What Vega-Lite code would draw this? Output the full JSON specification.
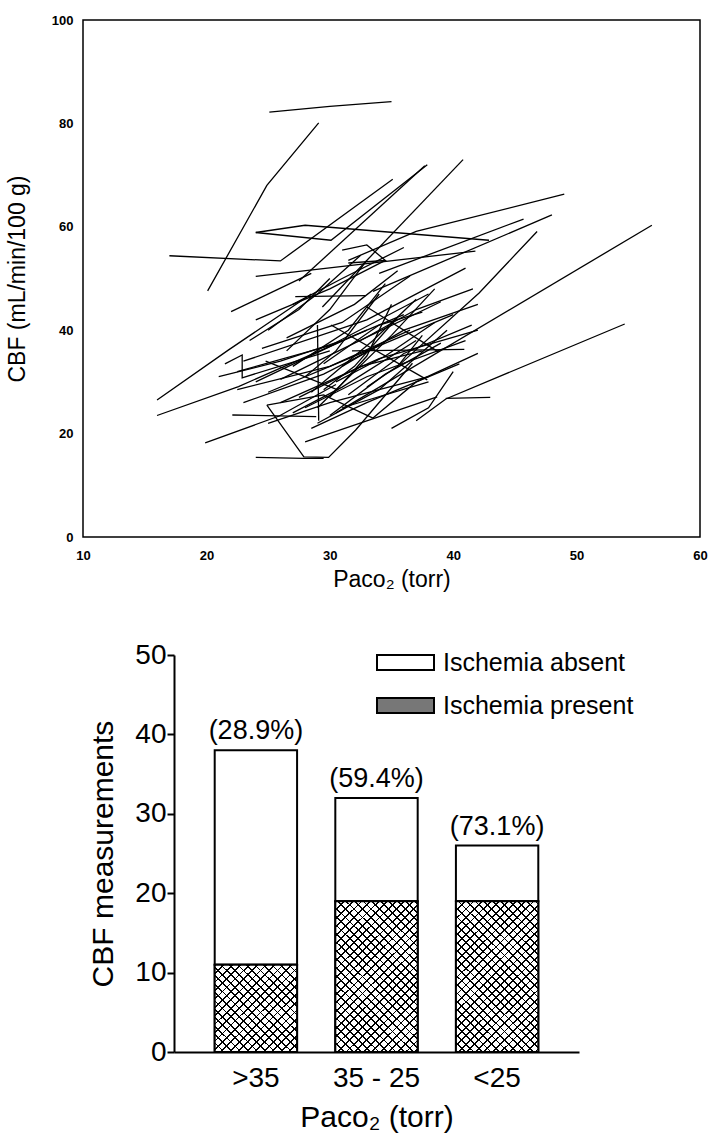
{
"$schema": "https://vega.github.io/schema/vega-lite/v6.json",
"padding": {"left": 5, "top": 13, "right": 5, "bottom": 5},
"background": "white",
"config": {"font": "Liberation Sans", "view": {"stroke": null}, "axis": {"grid": false, "labelColor": "black", "titleColor": "black", "domainColor": "black", "tickColor": "black", "titleFontWeight": "normal", "labelFont": "Liberation Sans", "titleFont": "Liberation Sans"}, "legend": {"labelColor": "black", "labelFont": "Liberation Sans"}},
"datasets": {
"paths": [
{"id":1,"seq":1,"x":25.1,"y":82.2},{"id":1,"seq":2,"x":30.0,"y":83.3},{"id":1,"seq":3,"x":35.0,"y":84.2},
{"id":2,"seq":1,"x":20.1,"y":47.6},{"id":2,"seq":2,"x":24.9,"y":68.0},{"id":2,"seq":3,"x":29.1,"y":80.1},
{"id":3,"seq":1,"x":17.0,"y":54.4},{"id":3,"seq":2,"x":26.0,"y":53.4},{"id":3,"seq":3,"x":35.1,"y":69.2},
{"id":4,"seq":1,"x":24.0,"y":58.9},{"id":4,"seq":2,"x":28.0,"y":60.3},{"id":4,"seq":3,"x":42.9,"y":57.4},
{"id":5,"seq":1,"x":24.0,"y":58.9},{"id":5,"seq":2,"x":30.1,"y":57.4},{"id":5,"seq":3,"x":37.9,"y":72.0},
{"id":6,"seq":1,"x":24.0,"y":50.4},{"id":6,"seq":2,"x":41.8,"y":55.3},
{"id":7,"seq":1,"x":31.5,"y":53.5},{"id":7,"seq":2,"x":37.0,"y":59.1},{"id":7,"seq":3,"x":49.0,"y":66.3},
{"id":8,"seq":1,"x":33.5,"y":47.5},{"id":8,"seq":2,"x":48.0,"y":62.3},
{"id":9,"seq":1,"x":34.0,"y":51.0},{"id":9,"seq":2,"x":45.7,"y":61.5},
{"id":10,"seq":1,"x":35.5,"y":33.0},{"id":10,"seq":2,"x":42.1,"y":47.2},{"id":10,"seq":3,"x":46.8,"y":59.1},
{"id":11,"seq":1,"x":30.5,"y":24.0},{"id":11,"seq":2,"x":56.1,"y":60.3},
{"id":12,"seq":1,"x":37.0,"y":22.5},{"id":12,"seq":2,"x":39.4,"y":26.7},{"id":12,"seq":3,"x":53.9,"y":41.2},
{"id":13,"seq":1,"x":39.4,"y":26.8},{"id":13,"seq":2,"x":43.0,"y":27.0},
{"id":14,"seq":1,"x":28.0,"y":18.4},{"id":14,"seq":2,"x":38.7,"y":27.1},
{"id":15,"seq":1,"x":19.9,"y":18.2},{"id":15,"seq":2,"x":25.9,"y":23.4},{"id":15,"seq":3,"x":30.5,"y":29.5},
{"id":16,"seq":1,"x":22.1,"y":23.6},{"id":16,"seq":2,"x":28.9,"y":23.3},
{"id":17,"seq":1,"x":24.0,"y":15.4},{"id":17,"seq":2,"x":27.9,"y":15.2},{"id":17,"seq":3,"x":29.5,"y":15.2},
{"id":18,"seq":1,"x":24.9,"y":25.5},{"id":18,"seq":2,"x":27.9,"y":15.5},{"id":18,"seq":3,"x":29.9,"y":15.4},{"id":18,"seq":4,"x":32.1,"y":20.7},{"id":18,"seq":5,"x":36.7,"y":33.6},
{"id":19,"seq":1,"x":24.9,"y":25.5},{"id":19,"seq":2,"x":29.5,"y":27.5},{"id":19,"seq":3,"x":33.5,"y":23.0},
{"id":20,"seq":1,"x":16.0,"y":23.5},{"id":20,"seq":2,"x":22.6,"y":29.1},{"id":20,"seq":3,"x":33.0,"y":40.0},
{"id":21,"seq":1,"x":16.0,"y":26.5},{"id":21,"seq":2,"x":21.8,"y":36.2},{"id":21,"seq":3,"x":28.5,"y":47.0},
{"id":22,"seq":1,"x":22.0,"y":43.6},{"id":22,"seq":2,"x":28.5,"y":51.0},
{"id":23,"seq":1,"x":27.2,"y":46.5},{"id":23,"seq":2,"x":32.9,"y":46.7},
{"id":24,"seq":1,"x":30.1,"y":41.0},{"id":24,"seq":2,"x":37.9,"y":30.4},
{"id":25,"seq":1,"x":31.8,"y":36.0},{"id":25,"seq":2,"x":40.9,"y":36.3},
{"id":26,"seq":1,"x":33.0,"y":44.5},{"id":26,"seq":2,"x":38.8,"y":35.8},
{"id":27,"seq":1,"x":29.0,"y":41.0},{"id":27,"seq":2,"x":29.1,"y":22.5},
{"id":28,"seq":1,"x":27.5,"y":49.5},{"id":28,"seq":2,"x":37.7,"y":71.8},
{"id":29,"seq":1,"x":29.4,"y":44.5},{"id":29,"seq":2,"x":40.8,"y":73.0},
{"id":30,"seq":1,"x":22.5,"y":32.0},{"id":30,"seq":2,"x":30.0,"y":37.0},{"id":30,"seq":3,"x":38.0,"y":47.0},
{"id":31,"seq":1,"x":23.0,"y":34.0},{"id":31,"seq":2,"x":33.0,"y":42.0},{"id":31,"seq":3,"x":41.0,"y":52.0},
{"id":32,"seq":1,"x":24.0,"y":30.0},{"id":32,"seq":2,"x":31.5,"y":38.5},{"id":32,"seq":3,"x":36.0,"y":43.0},
{"id":33,"seq":1,"x":25.0,"y":28.0},{"id":33,"seq":2,"x":32.0,"y":35.0},{"id":33,"seq":3,"x":40.0,"y":43.0},
{"id":34,"seq":1,"x":26.0,"y":26.0},{"id":34,"seq":2,"x":34.0,"y":34.5},{"id":34,"seq":3,"x":42.0,"y":40.0},
{"id":35,"seq":1,"x":27.0,"y":24.0},{"id":35,"seq":2,"x":31.0,"y":29.0},{"id":35,"seq":3,"x":37.0,"y":38.0},
{"id":36,"seq":1,"x":28.0,"y":25.0},{"id":36,"seq":2,"x":33.0,"y":31.0},{"id":36,"seq":3,"x":41.0,"y":38.0},
{"id":37,"seq":1,"x":21.0,"y":31.0},{"id":37,"seq":2,"x":26.0,"y":34.0},{"id":37,"seq":3,"x":31.0,"y":38.0},
{"id":38,"seq":1,"x":22.5,"y":28.5},{"id":38,"seq":2,"x":30.0,"y":33.0},{"id":38,"seq":3,"x":36.5,"y":40.0},
{"id":39,"seq":1,"x":23.0,"y":26.0},{"id":39,"seq":2,"x":29.5,"y":31.5},{"id":39,"seq":3,"x":34.0,"y":37.0},
{"id":40,"seq":1,"x":25.0,"y":22.0},{"id":40,"seq":2,"x":30.0,"y":26.0},{"id":40,"seq":3,"x":38.0,"y":31.0},
{"id":41,"seq":1,"x":28.5,"y":21.0},{"id":41,"seq":2,"x":33.0,"y":26.0},{"id":41,"seq":3,"x":40.5,"y":33.5},
{"id":42,"seq":1,"x":29.0,"y":25.0},{"id":42,"seq":2,"x":35.0,"y":39.0},{"id":42,"seq":3,"x":38.5,"y":48.0},
{"id":43,"seq":1,"x":30.0,"y":27.0},{"id":43,"seq":2,"x":33.0,"y":35.0},{"id":43,"seq":3,"x":35.0,"y":45.0},
{"id":44,"seq":1,"x":28.0,"y":31.0},{"id":44,"seq":2,"x":30.5,"y":36.0},{"id":44,"seq":3,"x":34.0,"y":47.0},
{"id":45,"seq":1,"x":26.5,"y":36.0},{"id":45,"seq":2,"x":30.0,"y":44.0},{"id":45,"seq":3,"x":33.0,"y":53.5},
{"id":46,"seq":1,"x":25.0,"y":40.0},{"id":46,"seq":2,"x":29.0,"y":47.0},{"id":46,"seq":3,"x":32.5,"y":54.5},
{"id":47,"seq":1,"x":23.5,"y":38.0},{"id":47,"seq":2,"x":27.5,"y":44.0},{"id":47,"seq":3,"x":30.0,"y":50.0},
{"id":48,"seq":1,"x":30.5,"y":30.0},{"id":48,"seq":2,"x":34.5,"y":35.0},{"id":48,"seq":3,"x":38.5,"y":41.5},
{"id":49,"seq":1,"x":31.0,"y":33.0},{"id":49,"seq":2,"x":36.0,"y":40.0},{"id":49,"seq":3,"x":42.0,"y":45.0},
{"id":50,"seq":1,"x":32.5,"y":38.0},{"id":50,"seq":2,"x":37.0,"y":44.0},{"id":50,"seq":3,"x":41.6,"y":48.0},
{"id":51,"seq":1,"x":33.5,"y":23.0},{"id":51,"seq":2,"x":37.0,"y":30.0},{"id":51,"seq":3,"x":42.0,"y":35.5},
{"id":52,"seq":1,"x":35.0,"y":21.0},{"id":52,"seq":2,"x":38.0,"y":25.0},{"id":52,"seq":3,"x":40.0,"y":32.0},
{"id":53,"seq":1,"x":29.5,"y":28.5},{"id":53,"seq":2,"x":32.0,"y":33.0},{"id":53,"seq":3,"x":35.5,"y":42.5},
{"id":54,"seq":1,"x":21.5,"y":33.5},{"id":54,"seq":2,"x":22.9,"y":35.2},{"id":54,"seq":3,"x":22.9,"y":30.8},{"id":54,"seq":4,"x":30.0,"y":36.0},
{"id":55,"seq":1,"x":27.0,"y":45.0},{"id":55,"seq":2,"x":31.0,"y":50.0},{"id":55,"seq":3,"x":36.0,"y":56.0},
{"id":56,"seq":1,"x":24.0,"y":42.0},{"id":56,"seq":2,"x":30.0,"y":48.0},{"id":56,"seq":3,"x":34.5,"y":53.5},
{"id":57,"seq":1,"x":31.0,"y":25.0},{"id":57,"seq":2,"x":38.0,"y":30.0},
{"id":58,"seq":1,"x":31.0,"y":55.5},{"id":58,"seq":2,"x":33.0,"y":56.5},{"id":58,"seq":3,"x":34.5,"y":53.5},{"id":58,"seq":4,"x":31.5,"y":53.0},
{"id":59,"seq":1,"x":33.0,"y":29.0},{"id":59,"seq":2,"x":35.5,"y":33.0},{"id":59,"seq":3,"x":37.5,"y":39.0},
{"id":60,"seq":1,"x":24.8,"y":34.0},{"id":60,"seq":2,"x":30.7,"y":28.4},
{"id":61,"seq":1,"x":26.0,"y":30.5},{"id":61,"seq":2,"x":32.0,"y":37.5},{"id":61,"seq":3,"x":39.0,"y":45.5},
{"id":62,"seq":1,"x":27.5,"y":27.0},{"id":62,"seq":2,"x":32.5,"y":33.0},{"id":62,"seq":3,"x":37.5,"y":36.0},
{"id":63,"seq":1,"x":24.5,"y":36.5},{"id":63,"seq":2,"x":31.0,"y":41.5},{"id":63,"seq":3,"x":36.5,"y":50.5},
{"id":64,"seq":1,"x":29.0,"y":22.0},{"id":64,"seq":2,"x":34.0,"y":28.5},{"id":64,"seq":3,"x":39.5,"y":40.0},
{"id":65,"seq":1,"x":28.5,"y":28.0},{"id":65,"seq":2,"x":33.5,"y":38.0},{"id":65,"seq":3,"x":37.0,"y":46.0},
{"id":66,"seq":1,"x":30.0,"y":23.5},{"id":66,"seq":2,"x":34.5,"y":31.5},{"id":66,"seq":3,"x":39.0,"y":37.5},
{"id":67,"seq":1,"x":27.0,"y":33.0},{"id":67,"seq":2,"x":31.5,"y":40.0},{"id":67,"seq":3,"x":34.5,"y":49.0},
{"id":68,"seq":1,"x":31.5,"y":27.5},{"id":68,"seq":2,"x":36.0,"y":35.5},{"id":68,"seq":3,"x":41.5,"y":41.0},
{"id":69,"seq":1,"x":26.5,"y":38.5},{"id":69,"seq":2,"x":32.0,"y":45.0},{"id":69,"seq":3,"x":35.5,"y":51.5},
{"id":70,"seq":1,"x":29.5,"y":33.5},{"id":70,"seq":2,"x":34.0,"y":41.0},{"id":70,"seq":3,"x":37.5,"y":43.5}
],
"bars": [
{"group":">35","status":"Ischemia absent","count":27},
{"group":">35","status":"Ischemia present","count":11},
{"group":"35 - 25","status":"Ischemia absent","count":13},
{"group":"35 - 25","status":"Ischemia present","count":19},
{"group":"<25","status":"Ischemia absent","count":7},
{"group":"<25","status":"Ischemia present","count":19}
],
"totals": [
{"group":">35","total":38,"label":"(28.9%)"},
{"group":"35 - 25","total":32,"label":"(59.4%)"},
{"group":"<25","total":26,"label":"(73.1%)"}
]
},
"vconcat": [
{
"width": 617, "height": 517,
"view": {"stroke": "black", "strokeWidth": 1.5},
"data": {"name": "paths"},
"mark": {"type": "line", "color": "black", "strokeWidth": 1.3},
"encoding": {
"x": {"field": "x", "type": "quantitative", "scale": {"domain": [10, 60], "nice": false, "zero": false}, "axis": {"values": [10, 20, 30, 40, 50, 60], "title": "Paco₂ (torr)", "domain": false, "ticks": false, "labelFontSize": 13, "labelFontWeight": "bold", "labelPadding": 12, "labelFlush": false, "titleFontSize": 23, "titlePadding": 6}},
"y": {"field": "y", "type": "quantitative", "scale": {"domain": [0, 100], "nice": false}, "axis": {"values": [0, 20, 40, 60, 80, 100], "title": "CBF (mL/min/100 g)", "domain": false, "ticks": false, "labelFontSize": 13, "labelFontWeight": "bold", "labelPadding": 10, "labelFlush": false, "titleFontSize": 23, "titlePadding": 22}},
"detail": {"field": "id", "type": "nominal"},
"order": {"field": "seq", "type": "quantitative"}
}
},
{
"hconcat": [
{"width": 91, "height": 10, "data": {"values": []}, "mark": "point"},
{
"width": 405, "height": 397,
"data": {"name": "bars"},
"encoding": {
"x": {"field": "group", "type": "nominal", "sort": [">35", "35 - 25", "<25"], "scale": {"paddingInner": 0.317, "paddingOuter": 0.3375}, "axis": {"title": "Paco₂ (torr)", "labelAngle": 0, "ticks": false, "domainWidth": 2, "labelFontSize": 28, "labelPadding": 12, "titleFontSize": 30, "titlePadding": 10}},
"y": {"field": "count", "type": "quantitative", "stack": "zero", "scale": {"domain": [0, 50], "nice": false}, "axis": {"values": [0, 10, 20, 30, 40, 50], "title": "CBF  measurements", "domainWidth": 2, "tickWidth": 2, "tickSize": 7, "labelFontSize": 28, "labelPadding": 1, "titleFontSize": 30, "titlePadding": 16}}
},
"layer": [
{
"mark": {"type": "bar", "stroke": "black", "strokeWidth": 2},
"encoding": {
"color": {"field": "status", "type": "nominal", "scale": {"domain": ["Ischemia absent", "Ischemia present"], "range": ["white", "#777777"]}, "legend": {"orient": "none", "legendX": 202, "legendY": -22, "title": null, "symbolType": "M-1,-0.263H1V0.263H-1Z", "symbolSize": 3249, "symbolStrokeColor": "black", "symbolStrokeWidth": 2, "symbolOpacity": 1, "labelFontSize": 25, "labelOffset": 8, "labelLimit": 400, "rowPadding": 0}},
"order": {"field": "status", "sort": "descending"}
}
},
{
"transform": [{"filter": "datum.status === 'Ischemia present'"}],
"mark": {"type": "bar", "fill": "white", "stroke": null}
},
{
"transform": [{"filter": "datum.status === 'Ischemia present' && datum.group === '>35'"}],
"mark": {"type": "bar", "stroke": null, "fill": {"gradient": "linear", "x1": 0, "y1": 0, "x2": 1, "y2": 1.07, "stops": [
{"offset":0,"color":"#000"},{"offset":0.01,"color":"#000"},{"offset":0.01,"color":"rgba(0,0,0,0)"},{"offset":0.048,"color":"rgba(0,0,0,0)"},
{"offset":0.048,"color":"#000"},{"offset":0.058,"color":"#000"},{"offset":0.058,"color":"rgba(0,0,0,0)"},{"offset":0.096,"color":"rgba(0,0,0,0)"},
{"offset":0.096,"color":"#000"},{"offset":0.106,"color":"#000"},{"offset":0.106,"color":"rgba(0,0,0,0)"},{"offset":0.144,"color":"rgba(0,0,0,0)"},
{"offset":0.144,"color":"#000"},{"offset":0.154,"color":"#000"},{"offset":0.154,"color":"rgba(0,0,0,0)"},{"offset":0.192,"color":"rgba(0,0,0,0)"},
{"offset":0.192,"color":"#000"},{"offset":0.202,"color":"#000"},{"offset":0.202,"color":"rgba(0,0,0,0)"},{"offset":0.24,"color":"rgba(0,0,0,0)"},
{"offset":0.24,"color":"#000"},{"offset":0.25,"color":"#000"},{"offset":0.25,"color":"rgba(0,0,0,0)"},{"offset":0.288,"color":"rgba(0,0,0,0)"},
{"offset":0.288,"color":"#000"},{"offset":0.298,"color":"#000"},{"offset":0.298,"color":"rgba(0,0,0,0)"},{"offset":0.336,"color":"rgba(0,0,0,0)"},
{"offset":0.336,"color":"#000"},{"offset":0.346,"color":"#000"},{"offset":0.346,"color":"rgba(0,0,0,0)"},{"offset":0.384,"color":"rgba(0,0,0,0)"},
{"offset":0.384,"color":"#000"},{"offset":0.394,"color":"#000"},{"offset":0.394,"color":"rgba(0,0,0,0)"},{"offset":0.432,"color":"rgba(0,0,0,0)"},
{"offset":0.432,"color":"#000"},{"offset":0.442,"color":"#000"},{"offset":0.442,"color":"rgba(0,0,0,0)"},{"offset":0.48,"color":"rgba(0,0,0,0)"},
{"offset":0.48,"color":"#000"},{"offset":0.49,"color":"#000"},{"offset":0.49,"color":"rgba(0,0,0,0)"},{"offset":0.528,"color":"rgba(0,0,0,0)"},
{"offset":0.528,"color":"#000"},{"offset":0.538,"color":"#000"},{"offset":0.538,"color":"rgba(0,0,0,0)"},{"offset":0.576,"color":"rgba(0,0,0,0)"},
{"offset":0.576,"color":"#000"},{"offset":0.586,"color":"#000"},{"offset":0.586,"color":"rgba(0,0,0,0)"},{"offset":0.624,"color":"rgba(0,0,0,0)"},
{"offset":0.624,"color":"#000"},{"offset":0.634,"color":"#000"},{"offset":0.634,"color":"rgba(0,0,0,0)"},{"offset":0.672,"color":"rgba(0,0,0,0)"},
{"offset":0.672,"color":"#000"},{"offset":0.682,"color":"#000"},{"offset":0.682,"color":"rgba(0,0,0,0)"},{"offset":0.72,"color":"rgba(0,0,0,0)"},
{"offset":0.72,"color":"#000"},{"offset":0.73,"color":"#000"},{"offset":0.73,"color":"rgba(0,0,0,0)"},{"offset":0.768,"color":"rgba(0,0,0,0)"},
{"offset":0.768,"color":"#000"},{"offset":0.778,"color":"#000"},{"offset":0.778,"color":"rgba(0,0,0,0)"},{"offset":0.816,"color":"rgba(0,0,0,0)"},
{"offset":0.816,"color":"#000"},{"offset":0.826,"color":"#000"},{"offset":0.826,"color":"rgba(0,0,0,0)"},{"offset":0.864,"color":"rgba(0,0,0,0)"},
{"offset":0.864,"color":"#000"},{"offset":0.874,"color":"#000"},{"offset":0.874,"color":"rgba(0,0,0,0)"},{"offset":0.912,"color":"rgba(0,0,0,0)"},
{"offset":0.912,"color":"#000"},{"offset":0.922,"color":"#000"},{"offset":0.922,"color":"rgba(0,0,0,0)"},{"offset":0.96,"color":"rgba(0,0,0,0)"},
{"offset":0.96,"color":"#000"},{"offset":0.97,"color":"#000"},{"offset":0.97,"color":"rgba(0,0,0,0)"},{"offset":1,"color":"rgba(0,0,0,0)"}
]}}
},
{
"transform": [{"filter": "datum.status === 'Ischemia present' && datum.group === '>35'"}],
"mark": {"type": "bar", "stroke": null, "fill": {"gradient": "linear", "x1": 0, "y1": 1, "x2": 1, "y2": -0.07, "stops": [
{"offset":0,"color":"#000"},{"offset":0.01,"color":"#000"},{"offset":0.01,"color":"rgba(0,0,0,0)"},{"offset":0.048,"color":"rgba(0,0,0,0)"},
{"offset":0.048,"color":"#000"},{"offset":0.058,"color":"#000"},{"offset":0.058,"color":"rgba(0,0,0,0)"},{"offset":0.096,"color":"rgba(0,0,0,0)"},
{"offset":0.096,"color":"#000"},{"offset":0.106,"color":"#000"},{"offset":0.106,"color":"rgba(0,0,0,0)"},{"offset":0.144,"color":"rgba(0,0,0,0)"},
{"offset":0.144,"color":"#000"},{"offset":0.154,"color":"#000"},{"offset":0.154,"color":"rgba(0,0,0,0)"},{"offset":0.192,"color":"rgba(0,0,0,0)"},
{"offset":0.192,"color":"#000"},{"offset":0.202,"color":"#000"},{"offset":0.202,"color":"rgba(0,0,0,0)"},{"offset":0.24,"color":"rgba(0,0,0,0)"},
{"offset":0.24,"color":"#000"},{"offset":0.25,"color":"#000"},{"offset":0.25,"color":"rgba(0,0,0,0)"},{"offset":0.288,"color":"rgba(0,0,0,0)"},
{"offset":0.288,"color":"#000"},{"offset":0.298,"color":"#000"},{"offset":0.298,"color":"rgba(0,0,0,0)"},{"offset":0.336,"color":"rgba(0,0,0,0)"},
{"offset":0.336,"color":"#000"},{"offset":0.346,"color":"#000"},{"offset":0.346,"color":"rgba(0,0,0,0)"},{"offset":0.384,"color":"rgba(0,0,0,0)"},
{"offset":0.384,"color":"#000"},{"offset":0.394,"color":"#000"},{"offset":0.394,"color":"rgba(0,0,0,0)"},{"offset":0.432,"color":"rgba(0,0,0,0)"},
{"offset":0.432,"color":"#000"},{"offset":0.442,"color":"#000"},{"offset":0.442,"color":"rgba(0,0,0,0)"},{"offset":0.48,"color":"rgba(0,0,0,0)"},
{"offset":0.48,"color":"#000"},{"offset":0.49,"color":"#000"},{"offset":0.49,"color":"rgba(0,0,0,0)"},{"offset":0.528,"color":"rgba(0,0,0,0)"},
{"offset":0.528,"color":"#000"},{"offset":0.538,"color":"#000"},{"offset":0.538,"color":"rgba(0,0,0,0)"},{"offset":0.576,"color":"rgba(0,0,0,0)"},
{"offset":0.576,"color":"#000"},{"offset":0.586,"color":"#000"},{"offset":0.586,"color":"rgba(0,0,0,0)"},{"offset":0.624,"color":"rgba(0,0,0,0)"},
{"offset":0.624,"color":"#000"},{"offset":0.634,"color":"#000"},{"offset":0.634,"color":"rgba(0,0,0,0)"},{"offset":0.672,"color":"rgba(0,0,0,0)"},
{"offset":0.672,"color":"#000"},{"offset":0.682,"color":"#000"},{"offset":0.682,"color":"rgba(0,0,0,0)"},{"offset":0.72,"color":"rgba(0,0,0,0)"},
{"offset":0.72,"color":"#000"},{"offset":0.73,"color":"#000"},{"offset":0.73,"color":"rgba(0,0,0,0)"},{"offset":0.768,"color":"rgba(0,0,0,0)"},
{"offset":0.768,"color":"#000"},{"offset":0.778,"color":"#000"},{"offset":0.778,"color":"rgba(0,0,0,0)"},{"offset":0.816,"color":"rgba(0,0,0,0)"},
{"offset":0.816,"color":"#000"},{"offset":0.826,"color":"#000"},{"offset":0.826,"color":"rgba(0,0,0,0)"},{"offset":0.864,"color":"rgba(0,0,0,0)"},
{"offset":0.864,"color":"#000"},{"offset":0.874,"color":"#000"},{"offset":0.874,"color":"rgba(0,0,0,0)"},{"offset":0.912,"color":"rgba(0,0,0,0)"},
{"offset":0.912,"color":"#000"},{"offset":0.922,"color":"#000"},{"offset":0.922,"color":"rgba(0,0,0,0)"},{"offset":0.96,"color":"rgba(0,0,0,0)"},
{"offset":0.96,"color":"#000"},{"offset":0.97,"color":"#000"},{"offset":0.97,"color":"rgba(0,0,0,0)"},{"offset":1,"color":"rgba(0,0,0,0)"}
]}}
},
{
"transform": [{"filter": "datum.status === 'Ischemia present' && datum.group !== '>35'"}],
"mark": {"type": "bar", "stroke": null, "fill": {"gradient": "linear", "x1": 0, "y1": 0, "x2": 1, "y2": 1.854, "stops": [
{"offset":0,"color":"#000"},{"offset":0.005,"color":"#000"},{"offset":0.005,"color":"rgba(0,0,0,0)"},{"offset":0.0234,"color":"rgba(0,0,0,0)"},
{"offset":0.0234,"color":"#000"},{"offset":0.0284,"color":"#000"},{"offset":0.0284,"color":"rgba(0,0,0,0)"},{"offset":0.0468,"color":"rgba(0,0,0,0)"},
{"offset":0.0468,"color":"#000"},{"offset":0.0518,"color":"#000"},{"offset":0.0518,"color":"rgba(0,0,0,0)"},{"offset":0.0702,"color":"rgba(0,0,0,0)"},
{"offset":0.0702,"color":"#000"},{"offset":0.0752,"color":"#000"},{"offset":0.0752,"color":"rgba(0,0,0,0)"},{"offset":0.0936,"color":"rgba(0,0,0,0)"},
{"offset":0.0936,"color":"#000"},{"offset":0.0986,"color":"#000"},{"offset":0.0986,"color":"rgba(0,0,0,0)"},{"offset":0.117,"color":"rgba(0,0,0,0)"},
{"offset":0.117,"color":"#000"},{"offset":0.122,"color":"#000"},{"offset":0.122,"color":"rgba(0,0,0,0)"},{"offset":0.1404,"color":"rgba(0,0,0,0)"},
{"offset":0.1404,"color":"#000"},{"offset":0.1454,"color":"#000"},{"offset":0.1454,"color":"rgba(0,0,0,0)"},{"offset":0.1638,"color":"rgba(0,0,0,0)"},
{"offset":0.1638,"color":"#000"},{"offset":0.1688,"color":"#000"},{"offset":0.1688,"color":"rgba(0,0,0,0)"},{"offset":0.1872,"color":"rgba(0,0,0,0)"},
{"offset":0.1872,"color":"#000"},{"offset":0.1922,"color":"#000"},{"offset":0.1922,"color":"rgba(0,0,0,0)"},{"offset":0.2106,"color":"rgba(0,0,0,0)"},
{"offset":0.2106,"color":"#000"},{"offset":0.2156,"color":"#000"},{"offset":0.2156,"color":"rgba(0,0,0,0)"},{"offset":0.234,"color":"rgba(0,0,0,0)"},
{"offset":0.234,"color":"#000"},{"offset":0.239,"color":"#000"},{"offset":0.239,"color":"rgba(0,0,0,0)"},{"offset":0.2574,"color":"rgba(0,0,0,0)"},
{"offset":0.2574,"color":"#000"},{"offset":0.2624,"color":"#000"},{"offset":0.2624,"color":"rgba(0,0,0,0)"},{"offset":0.2808,"color":"rgba(0,0,0,0)"},
{"offset":0.2808,"color":"#000"},{"offset":0.2858,"color":"#000"},{"offset":0.2858,"color":"rgba(0,0,0,0)"},{"offset":0.3042,"color":"rgba(0,0,0,0)"},
{"offset":0.3042,"color":"#000"},{"offset":0.3092,"color":"#000"},{"offset":0.3092,"color":"rgba(0,0,0,0)"},{"offset":0.3276,"color":"rgba(0,0,0,0)"},
{"offset":0.3276,"color":"#000"},{"offset":0.3326,"color":"#000"},{"offset":0.3326,"color":"rgba(0,0,0,0)"},{"offset":0.351,"color":"rgba(0,0,0,0)"},
{"offset":0.351,"color":"#000"},{"offset":0.356,"color":"#000"},{"offset":0.356,"color":"rgba(0,0,0,0)"},{"offset":0.3744,"color":"rgba(0,0,0,0)"},
{"offset":0.3744,"color":"#000"},{"offset":0.3794,"color":"#000"},{"offset":0.3794,"color":"rgba(0,0,0,0)"},{"offset":0.3978,"color":"rgba(0,0,0,0)"},
{"offset":0.3978,"color":"#000"},{"offset":0.4028,"color":"#000"},{"offset":0.4028,"color":"rgba(0,0,0,0)"},{"offset":0.4212,"color":"rgba(0,0,0,0)"},
{"offset":0.4212,"color":"#000"},{"offset":0.4262,"color":"#000"},{"offset":0.4262,"color":"rgba(0,0,0,0)"},{"offset":0.4446,"color":"rgba(0,0,0,0)"},
{"offset":0.4446,"color":"#000"},{"offset":0.4496,"color":"#000"},{"offset":0.4496,"color":"rgba(0,0,0,0)"},{"offset":0.468,"color":"rgba(0,0,0,0)"},
{"offset":0.468,"color":"#000"},{"offset":0.473,"color":"#000"},{"offset":0.473,"color":"rgba(0,0,0,0)"},{"offset":0.4914,"color":"rgba(0,0,0,0)"},
{"offset":0.4914,"color":"#000"},{"offset":0.4964,"color":"#000"},{"offset":0.4964,"color":"rgba(0,0,0,0)"},{"offset":0.5148,"color":"rgba(0,0,0,0)"},
{"offset":0.5148,"color":"#000"},{"offset":0.5198,"color":"#000"},{"offset":0.5198,"color":"rgba(0,0,0,0)"},{"offset":0.5382,"color":"rgba(0,0,0,0)"},
{"offset":0.5382,"color":"#000"},{"offset":0.5432,"color":"#000"},{"offset":0.5432,"color":"rgba(0,0,0,0)"},{"offset":0.5616,"color":"rgba(0,0,0,0)"},
{"offset":0.5616,"color":"#000"},{"offset":0.5666,"color":"#000"},{"offset":0.5666,"color":"rgba(0,0,0,0)"},{"offset":0.585,"color":"rgba(0,0,0,0)"},
{"offset":0.585,"color":"#000"},{"offset":0.59,"color":"#000"},{"offset":0.59,"color":"rgba(0,0,0,0)"},{"offset":0.6084,"color":"rgba(0,0,0,0)"},
{"offset":0.6084,"color":"#000"},{"offset":0.6134,"color":"#000"},{"offset":0.6134,"color":"rgba(0,0,0,0)"},{"offset":0.6318,"color":"rgba(0,0,0,0)"},
{"offset":0.6318,"color":"#000"},{"offset":0.6368,"color":"#000"},{"offset":0.6368,"color":"rgba(0,0,0,0)"},{"offset":0.6552,"color":"rgba(0,0,0,0)"}
]}}
},
{
"transform": [{"filter": "datum.status === 'Ischemia present' && datum.group !== '>35'"}],
"mark": {"type": "bar", "stroke": null, "fill": {"gradient": "linear", "x1": 0, "y1": 1, "x2": 1, "y2": -0.854, "stops": [
{"offset":0,"color":"#000"},{"offset":0.005,"color":"#000"},{"offset":0.005,"color":"rgba(0,0,0,0)"},{"offset":0.0234,"color":"rgba(0,0,0,0)"},
{"offset":0.0234,"color":"#000"},{"offset":0.0284,"color":"#000"},{"offset":0.0284,"color":"rgba(0,0,0,0)"},{"offset":0.0468,"color":"rgba(0,0,0,0)"},
{"offset":0.0468,"color":"#000"},{"offset":0.0518,"color":"#000"},{"offset":0.0518,"color":"rgba(0,0,0,0)"},{"offset":0.0702,"color":"rgba(0,0,0,0)"},
{"offset":0.0702,"color":"#000"},{"offset":0.0752,"color":"#000"},{"offset":0.0752,"color":"rgba(0,0,0,0)"},{"offset":0.0936,"color":"rgba(0,0,0,0)"},
{"offset":0.0936,"color":"#000"},{"offset":0.0986,"color":"#000"},{"offset":0.0986,"color":"rgba(0,0,0,0)"},{"offset":0.117,"color":"rgba(0,0,0,0)"},
{"offset":0.117,"color":"#000"},{"offset":0.122,"color":"#000"},{"offset":0.122,"color":"rgba(0,0,0,0)"},{"offset":0.1404,"color":"rgba(0,0,0,0)"},
{"offset":0.1404,"color":"#000"},{"offset":0.1454,"color":"#000"},{"offset":0.1454,"color":"rgba(0,0,0,0)"},{"offset":0.1638,"color":"rgba(0,0,0,0)"},
{"offset":0.1638,"color":"#000"},{"offset":0.1688,"color":"#000"},{"offset":0.1688,"color":"rgba(0,0,0,0)"},{"offset":0.1872,"color":"rgba(0,0,0,0)"},
{"offset":0.1872,"color":"#000"},{"offset":0.1922,"color":"#000"},{"offset":0.1922,"color":"rgba(0,0,0,0)"},{"offset":0.2106,"color":"rgba(0,0,0,0)"},
{"offset":0.2106,"color":"#000"},{"offset":0.2156,"color":"#000"},{"offset":0.2156,"color":"rgba(0,0,0,0)"},{"offset":0.234,"color":"rgba(0,0,0,0)"},
{"offset":0.234,"color":"#000"},{"offset":0.239,"color":"#000"},{"offset":0.239,"color":"rgba(0,0,0,0)"},{"offset":0.2574,"color":"rgba(0,0,0,0)"},
{"offset":0.2574,"color":"#000"},{"offset":0.2624,"color":"#000"},{"offset":0.2624,"color":"rgba(0,0,0,0)"},{"offset":0.2808,"color":"rgba(0,0,0,0)"},
{"offset":0.2808,"color":"#000"},{"offset":0.2858,"color":"#000"},{"offset":0.2858,"color":"rgba(0,0,0,0)"},{"offset":0.3042,"color":"rgba(0,0,0,0)"},
{"offset":0.3042,"color":"#000"},{"offset":0.3092,"color":"#000"},{"offset":0.3092,"color":"rgba(0,0,0,0)"},{"offset":0.3276,"color":"rgba(0,0,0,0)"},
{"offset":0.3276,"color":"#000"},{"offset":0.3326,"color":"#000"},{"offset":0.3326,"color":"rgba(0,0,0,0)"},{"offset":0.351,"color":"rgba(0,0,0,0)"},
{"offset":0.351,"color":"#000"},{"offset":0.356,"color":"#000"},{"offset":0.356,"color":"rgba(0,0,0,0)"},{"offset":0.3744,"color":"rgba(0,0,0,0)"},
{"offset":0.3744,"color":"#000"},{"offset":0.3794,"color":"#000"},{"offset":0.3794,"color":"rgba(0,0,0,0)"},{"offset":0.3978,"color":"rgba(0,0,0,0)"},
{"offset":0.3978,"color":"#000"},{"offset":0.4028,"color":"#000"},{"offset":0.4028,"color":"rgba(0,0,0,0)"},{"offset":0.4212,"color":"rgba(0,0,0,0)"},
{"offset":0.4212,"color":"#000"},{"offset":0.4262,"color":"#000"},{"offset":0.4262,"color":"rgba(0,0,0,0)"},{"offset":0.4446,"color":"rgba(0,0,0,0)"},
{"offset":0.4446,"color":"#000"},{"offset":0.4496,"color":"#000"},{"offset":0.4496,"color":"rgba(0,0,0,0)"},{"offset":0.468,"color":"rgba(0,0,0,0)"},
{"offset":0.468,"color":"#000"},{"offset":0.473,"color":"#000"},{"offset":0.473,"color":"rgba(0,0,0,0)"},{"offset":0.4914,"color":"rgba(0,0,0,0)"},
{"offset":0.4914,"color":"#000"},{"offset":0.4964,"color":"#000"},{"offset":0.4964,"color":"rgba(0,0,0,0)"},{"offset":0.5148,"color":"rgba(0,0,0,0)"},
{"offset":0.5148,"color":"#000"},{"offset":0.5198,"color":"#000"},{"offset":0.5198,"color":"rgba(0,0,0,0)"},{"offset":0.5382,"color":"rgba(0,0,0,0)"},
{"offset":0.5382,"color":"#000"},{"offset":0.5432,"color":"#000"},{"offset":0.5432,"color":"rgba(0,0,0,0)"},{"offset":0.5616,"color":"rgba(0,0,0,0)"},
{"offset":0.5616,"color":"#000"},{"offset":0.5666,"color":"#000"},{"offset":0.5666,"color":"rgba(0,0,0,0)"},{"offset":0.585,"color":"rgba(0,0,0,0)"},
{"offset":0.585,"color":"#000"},{"offset":0.59,"color":"#000"},{"offset":0.59,"color":"rgba(0,0,0,0)"},{"offset":0.6084,"color":"rgba(0,0,0,0)"},
{"offset":0.6084,"color":"#000"},{"offset":0.6134,"color":"#000"},{"offset":0.6134,"color":"rgba(0,0,0,0)"},{"offset":0.6318,"color":"rgba(0,0,0,0)"},
{"offset":0.6318,"color":"#000"},{"offset":0.6368,"color":"#000"},{"offset":0.6368,"color":"rgba(0,0,0,0)"},{"offset":0.6552,"color":"rgba(0,0,0,0)"}
]}}
},
{
"transform": [{"filter": "datum.status === 'Ischemia present'"}],
"mark": {"type": "bar", "fill": null, "fillOpacity": 0, "stroke": "black", "strokeWidth": 2}
},
{
"data": {"name": "totals"},
"mark": {"type": "text", "fontSize": 27, "baseline": "bottom", "dy": -5, "color": "black", "font": "Liberation Sans"},
"encoding": {"y": {"field": "total", "type": "quantitative", "axis": {"values": [0, 10, 20, 30, 40, 50], "title": "CBF  measurements", "domainWidth": 2, "tickWidth": 2, "tickSize": 7, "labelFontSize": 28, "labelPadding": 1, "titleFontSize": 30, "titlePadding": 16}}, "text": {"field": "label"}}
}
]
}
],
"spacing": 0, "align": "none", "bounds": "flush",
"resolve": {"scale": {"color": "independent"}, "legend": {"color": "independent"}}
}
],
"spacing": 118, "bounds": "flush",
"resolve": {"scale": {"color": "independent"}, "legend": {"color": "independent"}}
}
